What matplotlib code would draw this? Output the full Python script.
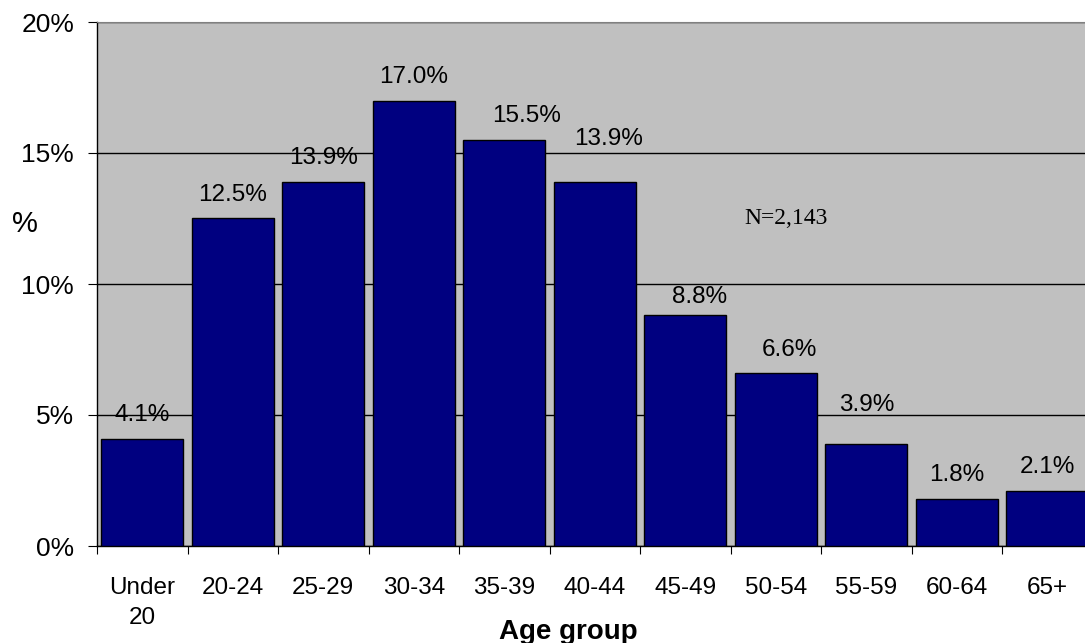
import numpy as np
import matplotlib.pyplot as plt

# age distribution, percent of respondents
age_groups = ["Under\n20", "20-24", "25-29", "30-34", "35-39", "40-44",
              "45-49", "50-54", "55-59", "60-64", "65+"]
share_pct = [4.1, 12.5, 13.9, 17.0, 15.5, 13.9, 8.8, 6.6, 3.9, 1.8, 2.1]
sample_note = "N=2,143"

# label nudges in points (dx, dy above the bar top)
label_dx = [0, 0, 0, 0, 16, 10, 10, 10, 0, 0, 0]
label_dy = [9, 9, 9, 9, 9, 23, 5, 9, 20, 9, 9]

plt.rcParams['font.family'] = ['Liberation Sans', 'DejaVu Sans']

fig = plt.figure(figsize=(10.85, 6.43), dpi=100)
ax = fig.add_axes([97 / 1085, 97 / 643, 995.5 / 1085, 524 / 643])
ax.set_facecolor('#C0C0C0')

x = np.arange(len(age_groups))
ax.bar(x, share_pct, width=0.91, color='#000080', edgecolor='black',
       linewidth=1.0, zorder=3)

for i, v in enumerate(share_pct):
    ax.annotate(f"{v:.1f}%", (x[i], v), xytext=(label_dx[i], label_dy[i]),
                textcoords='offset points', ha='center', va='bottom',
                fontsize=17.5, zorder=4)

ax.set_xlim(-0.5, len(age_groups) - 0.5)
ax.set_ylim(0, 20)

# y axis: percent ticks and black gridlines
ax.set_yticks([0, 5, 10, 15, 20])
ax.set_yticklabels(["0%", "5%", "10%", "15%", "20%"], fontsize=19)
ax.yaxis.grid(True, color='black', linewidth=1.0, zorder=1)
ax.tick_params(axis='y', direction='out', length=6.5, width=0.8, pad=10)

# x axis: category labels centered, tick marks on the boundaries
ax.set_xticks(x)
ax.set_xticklabels(age_groups, fontsize=17.5, linespacing=1.5)
ax.tick_params(axis='x', which='major', length=0, pad=22)
ax.set_xticks(np.arange(-0.5, len(age_groups), 1.0), minor=True)
ax.tick_params(axis='x', which='minor', direction='out', length=6, width=0.8)

for side in ['left', 'bottom']:
    ax.spines[side].set_color('black')
    ax.spines[side].set_linewidth(1.0)
ax.spines['top'].set_color('#808080')
ax.spines['right'].set_visible(False)

fig.text(25 / 1085, 1 - 224 / 643, "%", fontsize=21, ha='center', va='center')
fig.text(568 / 1085, 1 - 632 / 643, "Age group", fontsize=20,
         fontweight='bold', ha='center', va='center')
fig.text(786 / 1085, 1 - 218 / 643, sample_note, fontsize=17,
         family=['Liberation Serif', 'DejaVu Serif'], ha='center', va='center')

fig.savefig("out.png", dpi=100)
